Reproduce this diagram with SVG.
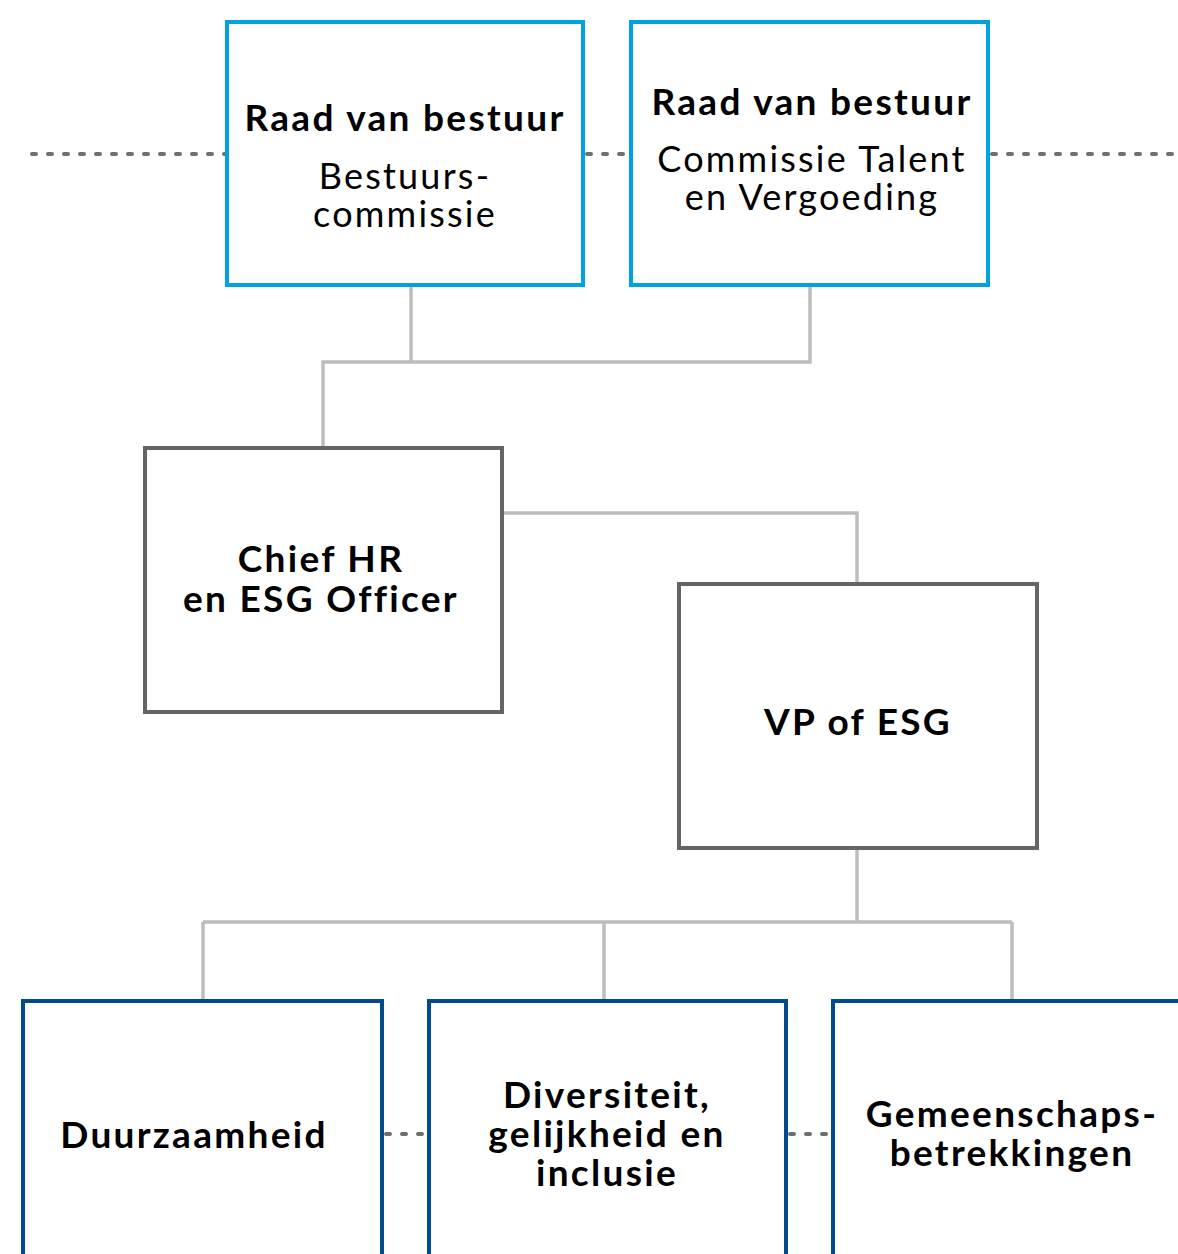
<svg xmlns="http://www.w3.org/2000/svg" width="1178" height="1254" viewBox="0 0 1178 1254">
<style>
.top{fill:#fff;stroke:#00a3e0;stroke-width:4}
.mid{fill:#fff;stroke:#636569;stroke-width:4}
.bot{fill:#fff;stroke:#004b8d;stroke-width:4}
.conn{fill:none;stroke:#bdbdbd;stroke-width:3.5}
.dot{fill:none;stroke:#6d6e71;stroke-width:4;stroke-linecap:round;stroke-dasharray:4 12}
.b{font-family:Lato,"Open Sans",sans-serif;font-weight:bold;font-size:37px;letter-spacing:2.3px;fill:#000;text-anchor:middle}
.r{font-family:Lato,"Open Sans",sans-serif;font-size:36px;letter-spacing:2.2px;fill:#000;text-anchor:middle}
</style>
<g id="connectors">
<path class="dot" d="M32 154H225M587 154H629M992 154H1178"/>
<path class="dot" d="M386 1134H427M790 1134H831"/>
<path class="conn" d="M411 287V362M810 287V362H323V446"/>
<path class="conn" d="M504 513H857V582"/>
<path class="conn" d="M857 850V922M203 922H1012M203 922V999M604 922V999M1012 922V999"/>
</g>
<g id="node-raad1">
<rect class="top" x="227" y="22" width="356" height="263"/>
<text class="b" x="405" y="131">Raad van bestuur</text>
<text class="r" x="405" y="189">Bestuurs-</text>
<text class="r" x="405" y="227">commissie</text>
</g>
<g id="node-raad2">
<rect class="top" x="631" y="22" width="357" height="263"/>
<text class="b" x="812" y="115">Raad van bestuur</text>
<text class="r" x="812" y="172">Commissie Talent</text>
<text class="r" x="812" y="210">en Vergoeding</text>
</g>
<g id="node-chief">
<rect class="mid" x="145" y="448" width="357" height="264"/>
<text class="b" x="321" y="572">Chief HR</text>
<text class="b" x="321" y="612">en ESG Officer</text>
</g>
<g id="node-vp">
<rect class="mid" x="679" y="584" width="358" height="264"/>
<text class="b" x="858" y="735">VP of ESG</text>
</g>
<g id="node-duurzaamheid">
<rect class="bot" x="23" y="1001" width="359" height="300"/>
<text class="b" x="194" y="1148">Duurzaamheid</text>
</g>
<g id="node-diversiteit">
<rect class="bot" x="429" y="1001" width="357" height="300"/>
<text class="b" x="607" y="1108">Diversiteit,</text>
<text class="b" x="607" y="1147">gelijkheid en</text>
<text class="b" x="607" y="1186">inclusie</text>
</g>
<g id="node-gemeenschap">
<rect class="bot" x="833" y="1001" width="400" height="300"/>
<text class="b" x="1012" y="1127">Gemeenschaps-</text>
<text class="b" x="1012" y="1166">betrekkingen</text>
</g>
</svg>
